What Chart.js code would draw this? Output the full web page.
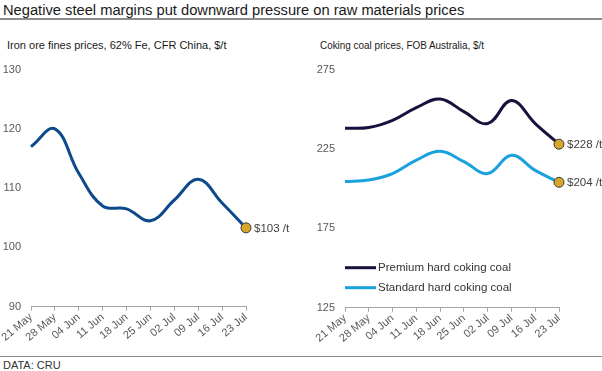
<!DOCTYPE html>
<html>
<head>
<meta charset="utf-8">
<script src="https://cdn.jsdelivr.net/npm/chart.js@4.4.0/dist/chart.umd.min.js"></script>
<style>
  body { margin: 0; background: #fff; font-family: "Liberation Sans", Arial, sans-serif; }
  #wrap { position: relative; width: 602px; height: 371px; overflow: hidden; }
  #title { position: absolute; left: 3px; top: 2px; font-size: 14.7px; color: #1a1a1a; white-space: nowrap; }
  .rule { position: absolute; left: 0; width: 602px; background: #8c8c8c; }
  .sub { position: absolute; top: 39px; font-size: 11px; color: #1a1a1a; white-space: nowrap; transform-origin: left center; }
  #foot { position: absolute; left: 3px; top: 359px; font-size: 11px; color: #333; }
  .box { position: absolute; }
</style>
</head>
<body>
<div id="wrap">
  <div id="title">Negative steel margins put downward pressure on raw materials prices</div>
  <div class="rule" style="top:18px;height:2px"></div>
  <div class="sub" style="left:7px">Iron ore fines prices, 62% Fe, CFR China, $/t</div>
  <div class="sub" style="left:320px;transform:scaleX(0.9)">Coking coal prices, FOB Australia, $/t</div>
  <div class="box" style="left:0;top:53px;width:300px;height:295px"><canvas id="ironChart"></canvas></div>
  <div class="box" style="left:300px;top:53px;width:302px;height:295px"><canvas id="coalChart"></canvas></div>
  <div class="rule" style="top:356px;height:1px"></div>
  <div id="foot">DATA: CRU</div>
</div>
<script>
const weeks = ["21 May", "28 May", "04 Jun", "11 Jun", "18 Jun", "25 Jun", "02 Jul", "09 Jul", "16 Jul", "23 Jul"];
const ironOre = [117, 120, 112.5, 107, 106.5, 104.5, 108, 111.5, 107.5, 103.3];
const premiumCoal = [238, 238.5, 243, 251, 256.5, 248.5, 241, 255.5, 241, 228];
const standardCoal = [204.5, 205.5, 209.5, 218, 223.5, 217, 209.5, 221, 211.5, 204];
const ironEndLabel = ["$103 /t"];
const coalEndLabels = ["$228 /t", "$204 /t"];
const ironTicks = { min: 90, max: 130, step: 10 };
const coalTicks = { min: 125, max: 275, step: 50 };

const tickColor = '#595959';
const gold = '#d7a72b';

Chart.defaults.font.family = '"Liberation Sans", Arial, sans-serif';
Chart.defaults.font.size = 11;
Chart.defaults.color = tickColor;

// last point marker only
function markerRadius(n) {
    return ctx => ctx.dataIndex === n - 1 ? 5 : 0;
}

const endLabelPlugin = {
    id: 'endLabels',
    afterDatasetsDraw(chart, args, opts) {
        const ctx = chart.ctx;
        ctx.save();
        ctx.font = '11.5px "Liberation Sans", Arial, sans-serif';
        ctx.fillStyle = '#404040';
        ctx.textBaseline = 'middle';
        chart.data.datasets.forEach((ds, i) => {
            const meta = chart.getDatasetMeta(i);
            const pt = meta.data[meta.data.length - 1];
            ctx.fillText(opts.labels[i], pt.x + 8, pt.y + 1);
        });
        ctx.restore();
    }
};

const lineLegendPlugin = {
    id: 'lineLegend',
    afterDraw(chart, args, opts) {
        if (!opts.show) return;
        const ctx = chart.ctx;
        const area = chart.chartArea;
        ctx.save();
        ctx.font = '11.5px "Liberation Sans", Arial, sans-serif';
        ctx.textBaseline = 'middle';
        chart.data.datasets.forEach((ds, i) => {
            const y = area.bottom - 40 + i * 20;
            ctx.strokeStyle = ds.borderColor;
            ctx.lineWidth = 3;
            ctx.beginPath();
            ctx.moveTo(area.left, y);
            ctx.lineTo(area.left + 31, y);
            ctx.stroke();
            ctx.fillStyle = '#333';
            ctx.fillText(ds.label, area.left + 33, y);
        });
        ctx.restore();
    }
};

function makeScales(t, yWidth) {
    return {
        x: {
            offset: false,
            grid: { display: true, drawOnChartArea: false, drawTicks: true, tickLength: 4, color: '#a6a6a6' },
            border: { display: true, color: '#a6a6a6', width: 1 },
            ticks: { autoSkip: false, maxRotation: 40, minRotation: 40, padding: 0, color: tickColor }
        },
        y: {
            min: t.min,
            max: t.max,
            grid: { display: false, drawTicks: false },
            border: { display: false },
            ticks: { stepSize: t.step, padding: 10, color: tickColor },
            afterFit(scale) { scale.width = yWidth; }
        }
    };
}

function lineDataset(label, data, color) {
    return {
        label: label,
        data: data,
        borderColor: color,
        borderWidth: 3,
        tension: 0.4,
        pointRadius: markerRadius(data.length),
        pointBackgroundColor: gold,
        pointBorderColor: '#3a3a3a',
        pointBorderWidth: 1,
        fill: false
    };
}

new Chart(document.getElementById('ironChart'), {
    type: 'line',
    data: {
        labels: weeks,
        datasets: [lineDataset('Iron ore fines', ironOre, '#0d4a8c')]
    },
    options: {
        responsive: true,
        maintainAspectRatio: false,
        animation: false,
        layout: { padding: { left: 0, right: 54, top: 7, bottom: 4 } },
        scales: makeScales(ironTicks, 31),
        plugins: {
            legend: { display: false },
            tooltip: { enabled: false },
            endLabels: { labels: ironEndLabel },
            lineLegend: { show: false }
        }
    },
    plugins: [endLabelPlugin, lineLegendPlugin]
});

new Chart(document.getElementById('coalChart'), {
    type: 'line',
    data: {
        labels: weeks,
        datasets: [
            lineDataset('Premium hard coking coal', premiumCoal, '#15133d'),
            lineDataset('Standard hard coking coal', standardCoal, '#1ba1dd')
        ]
    },
    options: {
        responsive: true,
        maintainAspectRatio: false,
        animation: false,
        layout: { padding: { left: 0, right: 43, top: 7, bottom: 3 } },
        scales: makeScales(coalTicks, 45),
        plugins: {
            legend: { display: false },
            tooltip: { enabled: false },
            endLabels: { labels: coalEndLabels },
            lineLegend: { show: true }
        }
    },
    plugins: [endLabelPlugin, lineLegendPlugin]
});
</script>
</body>
</html>
